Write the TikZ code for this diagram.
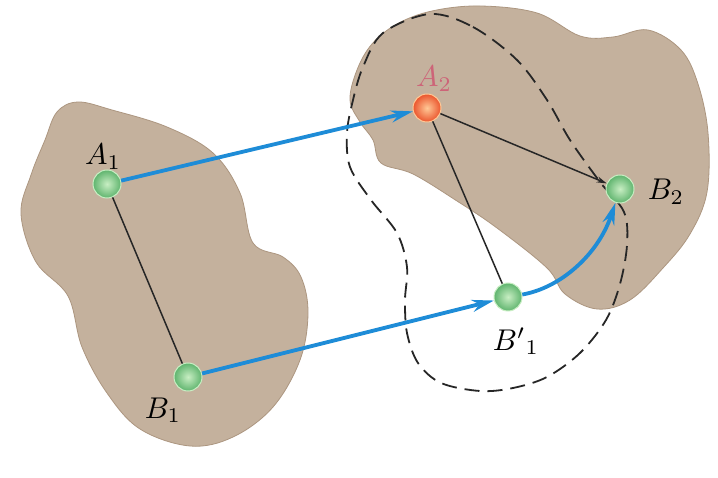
\documentclass[tikz,border=0pt]{standalone}
\usepackage{graphicx}
\usetikzlibrary{arrows.meta}
\definecolor{blobtan}{RGB}{196,177,157}
\definecolor{blobedge}{RGB}{172,150,128}
\definecolor{arrowblue}{RGB}{30,140,215}
\definecolor{greenin}{RGB}{200,238,195}
\definecolor{greenout}{RGB}{95,180,110}
\definecolor{redin}{RGB}{255,200,150}
\definecolor{redout}{RGB}{235,85,45}
\definecolor{labelpink}{RGB}{205,100,120}
\newcommand{\biglbl}[1]{\scalebox{3.0}{$#1$}}
\tikzset{
  blob/.style={fill=blobtan, draw=blobedge, line width=0.8pt},
  ghost/.style={draw=black!85, line width=1.8pt, dash pattern=on 15pt off 8pt},
  greenball/.style={circle, minimum size=28pt, inner sep=0pt, shading=radial, inner color=greenin, outer color=greenout, draw=greenin, line width=1pt},
  redball/.style={circle, minimum size=28pt, inner sep=0pt, shading=radial, inner color=redin, outer color=redout, draw=redin, line width=1pt},
  moveline/.style={draw=arrowblue, line width=3.8pt, -{Stealth[length=22pt,width=12pt]}},
  rigid/.style={draw=black!85, line width=1.5pt},
  lbl/.style={inner sep=0pt}
}
\begin{document}
\begin{tikzpicture}[x=1pt,y=-1pt]
\path[use as bounding box, fill=white] (0,0) rectangle (718,478);
% left body
\fill[blob] plot[smooth cycle, tension=0.6] coordinates {
 (57,112) (78,102) (112,110) (167,127) (213,153) (240,193) (253,243)
 (283,257) (301,277) (308,313) (300,360) (273,407) (233,437) (190,446)
 (140,429) (107,393) (82,347) (68,296) (36,262) (21,214) (31,175) (45,140)};
% right body
\fill[blob] plot[smooth cycle, tension=0.6] coordinates {
 (397,24) (432,11) (480,6) (537,13) (580,36) (613,37) (648,30) (681,50)
 (698,84) (708,133) (707,192) (690,234) (663,268) (630,300) (597,309)
 (565,294) (547,268) (497,228) (457,201) (413,174) (381,163) (373,140)
 (360,122) (350,100) (357,70) (372,44)};
% dashed displaced outline
\draw[ghost] plot[smooth cycle, tension=0.55] coordinates {
 (430,14) (473,27) (517,60) (547,100) (570,140) (600,182) (624,212)
 (627,245) (620,284) (606,320) (580,353) (547,377) (513,388) (480,391)
 (441,383) (418,363) (407,333) (405,300) (407,267) (397,233) (371,200)
 (350,167) (347,133) (353,100) (363,67) (383,33)};
% points
\node[greenball] (A1) at (107,184) {};
\node[greenball] (B1) at (188,377) {};
\node[redball]   (A2) at (427,108) {};
\node[greenball] (B2) at (620,189) {};
\node[greenball] (B1p) at (508,297) {};
% rigid lines
\draw[rigid] (A1) -- (B1);
\draw[rigid] (A2) -- (B1p);
\draw[rigid, -{Stealth[length=10pt,width=6pt]}] (A2) -- (B2);
% displacements
\draw[moveline] (A1) -- (A2);
\draw[moveline] (B1) -- (B1p);
\draw[moveline] (B1p) .. controls (560,288) and (598,255) .. (B2);
% labels
\node[lbl] (lA1) at (103,157) {\biglbl{A_1}};
\node[lbl] (lB1) at (163,410) {\biglbl{B_1}};
\node[lbl, text=labelpink] (lA2) at (434,79) {\biglbl{A_2}};
\node[lbl] (lB2) at (666,192) {\biglbl{B_2}};
\node[lbl] (lB1p) at (516,341) {\biglbl{B'{}_1}};
\end{tikzpicture}
\end{document}
